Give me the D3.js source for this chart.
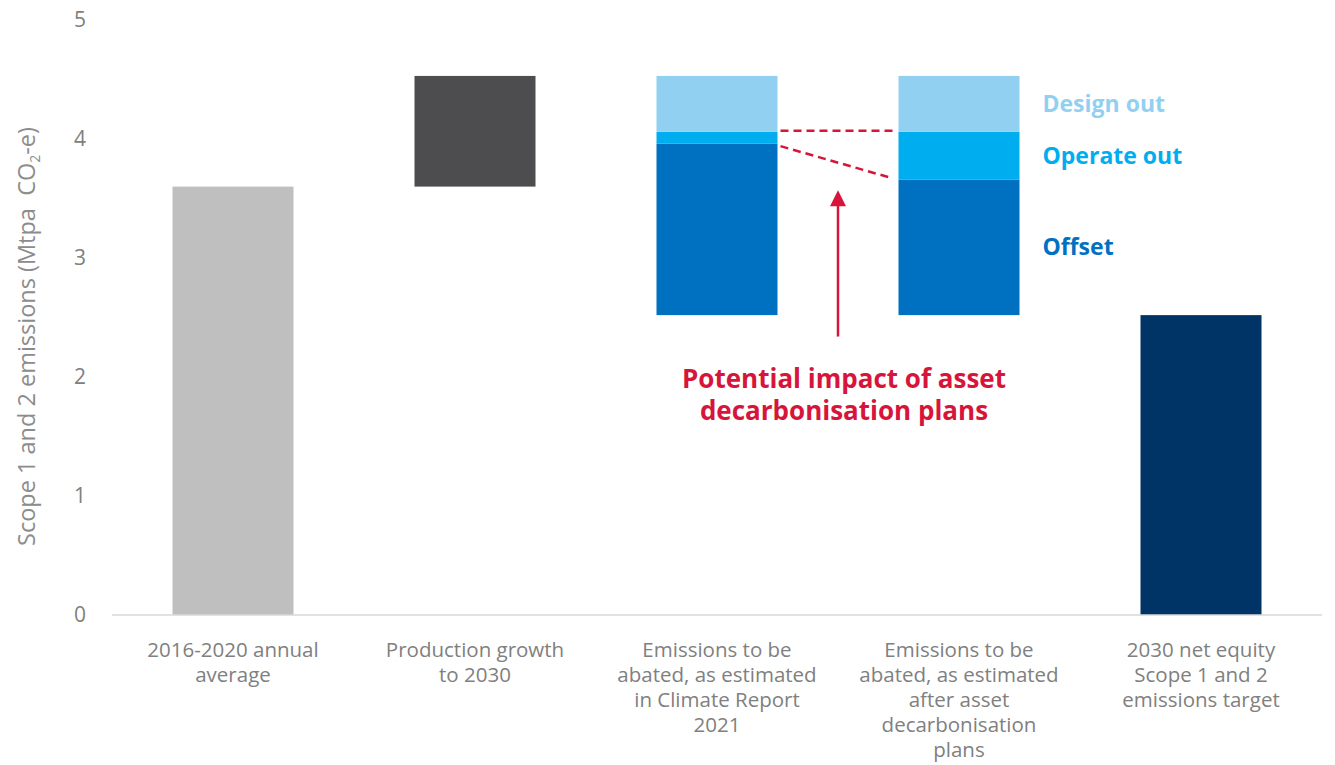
<!DOCTYPE html>
<html>
<head>
<meta charset="utf-8">
<script src="https://cdn.jsdelivr.net/npm/d3@7"></script>
<style>
  html, body { margin: 0; padding: 0; background: #fff; }
  svg { display: block; font-family: "Open Sans", "Noto Sans", sans-serif; }
</style>
</head>
<body>
<svg id="chart" width="1335" height="765"></svg>
<script>
// ---- data ----
const categories = [
  "2016-2020 annual average",
  "Production growth to 2030",
  "Emissions to be abated, as estimated in Climate Report 2021",
  "Emissions to be abated, as estimated after asset decarbonisation plans",
  "2030 net equity Scope 1 and 2 emissions target"
];
const categoryLines = [
  ["2016-2020 annual", "average"],
  ["Production growth", "to 2030"],
  ["Emissions to be", "abated, as estimated", "in Climate Report", "2021"],
  ["Emissions to be", "abated, as estimated", "after asset", "decarbonisation", "plans"],
  ["2030 net equity", "Scope 1 and 2", "emissions target"]
];
const baseline      = [0,    3.60, 2.52, 2.52, 0];
const singleValues  = [3.60, 0.93, 0,    0,    2.52];
const offsetValues  = [0,    0,    1.44, 1.14, 0];
const operateValues = [0,    0,    0.10, 0.40, 0];
const designValues  = [0,    0,    0.47, 0.47, 0];
const yTicks = [0, 1, 2, 3, 4, 5];
const stackNames = ["Offset", "Operate out", "Design out"];
const connectorStart = [4.07, 3.94];
const connectorEnd   = [4.07, 3.67];
const arrowFrom = 2.34, arrowTo = 3.57;
const annotationLines = ["Potential impact of asset", "decarbonisation plans"];
const yTitle = ["Scope 1 and 2 emissions (Mtpa  CO", "2", "-e)"];

// ---- styles ----
const singleColors = ["#bfbfbf", "#4d4d4f", null, null, "#003366"];
const stackColors = { "Offset": "#0070c0", "Operate out": "#00aeef", "Design out": "#92d0f2" };
const red = "#d7153a";
const gray = "#808080";

const svg = d3.select("#chart");
const x = d3.scaleBand().domain(categories).range([112, 1322]).paddingInner(0.5).paddingOuter(0.25);
const y = d3.scaleLinear().domain([0, 5]).range([615, 20]);

// build segment table
const segments = [];
categories.forEach((c, i) => {
  if (singleValues[i] > 0) {
    segments.push({ cat: c, y0: baseline[i], y1: baseline[i] + singleValues[i], color: singleColors[i] });
  }
  let acc = baseline[i];
  [offsetValues, operateValues, designValues].forEach((arr, k) => {
    if (arr[i] > 0) {
      segments.push({ cat: c, y0: acc, y1: acc + arr[i], color: stackColors[stackNames[k]], name: stackNames[k], idx: i });
      acc += arr[i];
    }
  });
});

svg.append("g").selectAll("rect").data(segments).join("rect")
  .attr("x", d => x(d.cat))
  .attr("width", x.bandwidth())
  .attr("y", d => y(d.y1))
  .attr("height", d => y(d.y0) - y(d.y1))
  .attr("fill", d => d.color);

// x axis baseline
svg.append("line")
  .attr("x1", 112).attr("x2", 1322)
  .attr("y1", y(0)).attr("y2", y(0))
  .attr("stroke", "#d9d9d9").attr("stroke-width", 1.5);

// y tick labels
svg.append("g").selectAll("text").data(yTicks).join("text")
  .attr("x", 80).attr("y", d => y(d)).attr("dy", "0.35em")
  .attr("text-anchor", "middle")
  .attr("font-size", 21).attr("fill", gray)
  .text(d => d);

// y axis title
const yt = svg.append("text")
  .attr("transform", `translate(35, ${y(2.34)}) rotate(-90)`)
  .attr("text-anchor", "middle")
  .attr("font-size", 23.5).attr("fill", "#8c8c8c")
  .style("white-space", "pre");
yt.append("tspan").text(yTitle[0]);
yt.append("tspan").attr("font-size", 14).attr("dy", 5).text(yTitle[1]);
yt.append("tspan").attr("dy", -5).text(yTitle[2]);

// category labels
const cl = svg.append("g").selectAll("text").data(categories).join("text")
  .attr("x", d => x(d) + x.bandwidth() / 2)
  .attr("y", 657)
  .attr("text-anchor", "middle")
  .attr("font-size", 20.5).attr("fill", gray);
cl.each(function(d, i) {
  d3.select(this).selectAll("tspan").data(categoryLines[i]).join("tspan")
    .attr("x", x(d) + x.bandwidth() / 2)
    .attr("dy", (t, j) => j === 0 ? 0 : 25)
    .text(t => t);
});

// stack labels beside bar 4
const c4 = categories[3];
const labelSegs = segments.filter(s => s.idx === 3);
svg.append("g").selectAll("text").data(labelSegs).join("text")
  .attr("x", x(c4) + x.bandwidth() + 23)
  .attr("y", d => (y(d.y0) + y(d.y1)) / 2)
  .attr("dy", "0.35em")
  .attr("font-size", 23).attr("font-weight", "bold")
  .attr("fill", d => d.color)
  .text(d => d.name);

// dashed connectors
const xs = x(categories[2]) + x.bandwidth() + 3;
const xe = x(categories[3]) - 6;
svg.append("g").selectAll("line").data(connectorStart).join("line")
  .attr("x1", xs).attr("x2", xe)
  .attr("y1", d => y(d))
  .attr("y2", (d, i) => y(connectorEnd[i]))
  .attr("stroke", red).attr("stroke-width", 2.5)
  .attr("stroke-dasharray", "8,5");

// arrow
const ax = (x(categories[2]) + x.bandwidth() + x(categories[3])) / 2;
svg.append("line")
  .attr("x1", ax).attr("x2", ax)
  .attr("y1", y(arrowFrom)).attr("y2", y(arrowTo) + 14)
  .attr("stroke", red).attr("stroke-width", 2.5);
svg.append("path")
  .attr("d", `M${ax},${y(arrowTo)} L${ax - 8},${y(arrowTo) + 16} L${ax + 8},${y(arrowTo) + 16} Z`)
  .attr("fill", red);

// annotation text
svg.append("g").selectAll("text").data(annotationLines).join("text")
  .attr("x", ax + 6)
  .attr("y", (d, i) => 388 + i * 32)
  .attr("text-anchor", "middle")
  .attr("font-size", 26).attr("font-weight", "bold")
  .attr("fill", red)
  .text(d => d);
</script>
</body>
</html>
